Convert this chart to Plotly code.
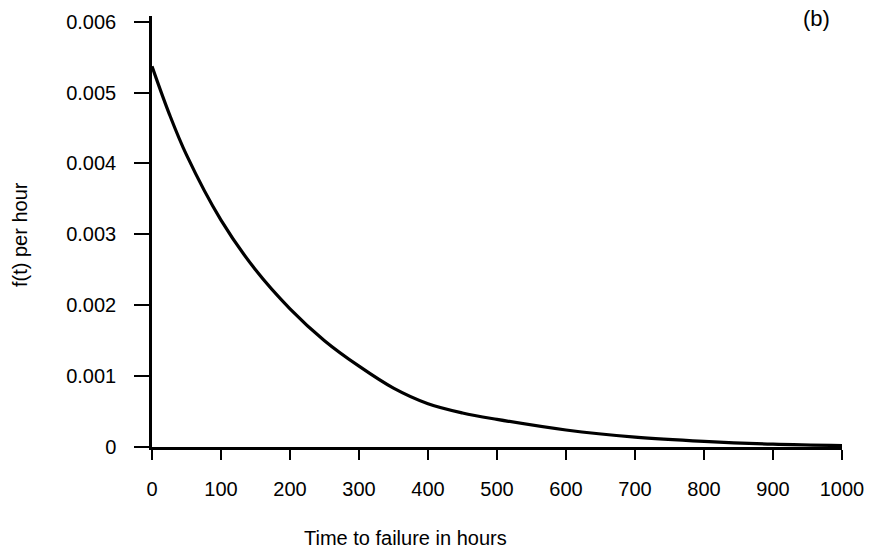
import plotly.graph_objects as go

# Data
t_hours = [0, 25, 50, 100, 150, 200, 250, 300, 350, 400, 450, 500, 600, 700, 800, 900, 1000]
f_per_hour = [0.00537, 0.00470, 0.00412, 0.00320, 0.00250, 0.00195, 0.00150, 0.00114, 0.00083,
              0.00061, 0.00048, 0.00039, 0.00024, 0.00014, 0.00008, 0.00004, 0.00002]

x_ticks = [0, 100, 200, 300, 400, 500, 600, 700, 800, 900, 1000]
y_ticks = [0, 0.001, 0.002, 0.003, 0.004, 0.005, 0.006]
y_tick_labels = ["0", "0.001", "0.002", "0.003", "0.004", "0.005", "0.006"]

x_title = "Time to failure in hours"
y_title = "f(t) per hour"

FONT = "Liberation Sans, Arial, Helvetica, sans-serif"

fig = go.Figure()
fig.add_trace(go.Scatter(
    x=t_hours, y=f_per_hour, mode="lines",
    line=dict(color="black", width=3.2, shape="spline", smoothing=1.0),
    showlegend=False, hoverinfo="skip",
))

L, R, T, B = 152, 33, 16, 104
W, H = 875, 551
pw = W - L - R
ph = H - T - B


def px_to_paper(px, py):
    return (px - L) / pw, (H - B - py) / ph


ax, ay = px_to_paper(405, 538)
bx, by = px_to_paper(20, 235)
cx, cy = px_to_paper(816, 18)

fig.update_layout(
    width=W, height=H,
    margin=dict(l=L, r=R, t=T, b=B, autoexpand=False),
    paper_bgcolor="white", plot_bgcolor="white",
    font=dict(family=FONT, size=20, color="black"),
    xaxis=dict(
        range=[0, 1000], tickvals=x_ticks, ticks="outside", ticklen=10, tickwidth=2,
        tickcolor="black", showline=True, linecolor="black", linewidth=2.5,
        showgrid=False, zeroline=False, ticklabelstandoff=12, automargin=False,
        tickfont=dict(family=FONT, size=20),
    ),
    yaxis=dict(
        range=[0, 0.00608], tickvals=y_ticks, ticktext=y_tick_labels, ticks="outside",
        ticklen=15, tickwidth=2, tickcolor="black", showline=True, linecolor="black",
        linewidth=2.5, showgrid=False, zeroline=False, ticklabelstandoff=14, automargin=False,
        tickfont=dict(family=FONT, size=20),
    ),
    annotations=[
        dict(text=x_title, x=ax, y=ay, xref="paper", yref="paper",
             xanchor="center", yanchor="middle", showarrow=False,
             font=dict(family=FONT, size=20)),
        dict(text=y_title, x=bx, y=by, xref="paper", yref="paper", textangle=-90,
             xanchor="center", yanchor="middle", showarrow=False,
             font=dict(family=FONT, size=20)),
        dict(text="(b)", x=cx, y=cy, xref="paper", yref="paper",
             xanchor="center", yanchor="middle", showarrow=False,
             font=dict(family=FONT, size=22)),
    ],
)

fig.write_html("out.html")
